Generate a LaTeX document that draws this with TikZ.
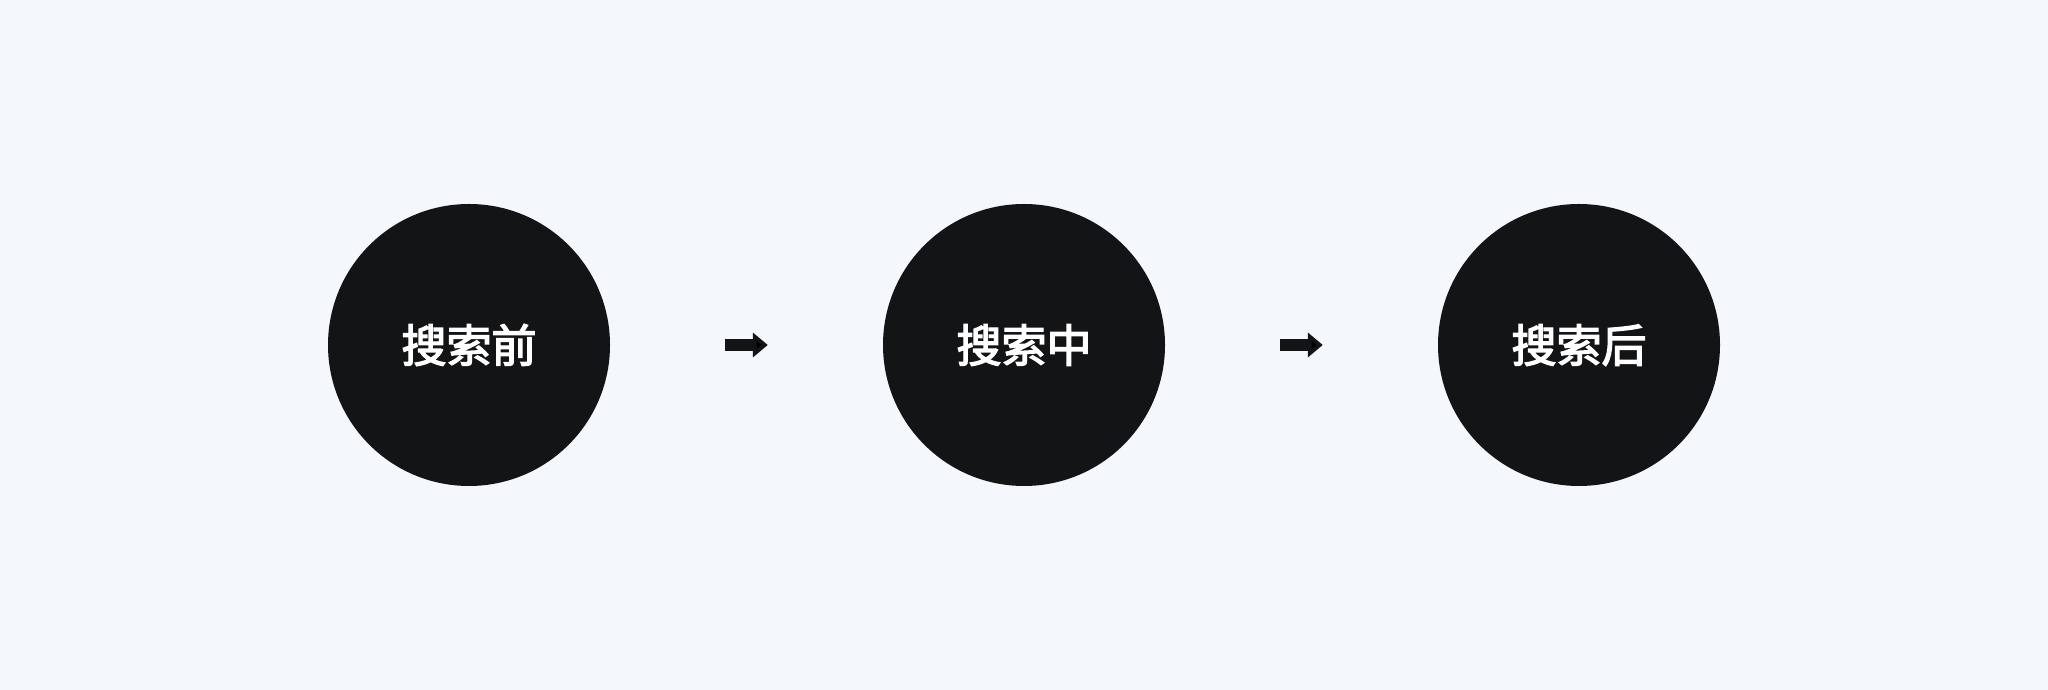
\documentclass[tikz,border=0pt]{standalone}
\usepackage{fontspec}
\newfontfamily\cjk{Noto Sans CJK SC}[FakeBold=3]
\usepackage{tikz}
\usetikzlibrary{arrows.meta,positioning}

\definecolor{bgpale}{HTML}{F4F7FC}
\definecolor{inkdark}{HTML}{131416}

\begin{document}
\begin{tikzpicture}[x=1pt,y=1pt,node distance=555pt,on grid,
		stage/.style={circle,fill=inkdark,minimum size=282pt,inner sep=0pt,text=white,font=\cjk\fontsize{45}{45}\selectfont},
		flow/.style={line width=12pt,draw=inkdark,-{Triangle[length=15pt,width=24pt]},shorten <=115pt,shorten >=115pt}]
	\fill[bgpale] (0,0) rectangle (2048,690);
	\useasboundingbox (0,0) rectangle (2048,690);
	\node[stage] (s_0) at (469,345) {搜索前};
	\node[stage] (s_1) [right=of s_0] {搜索中};
	\node[stage] (s_2) [right=of s_1] {搜索后};
	\path[flow]
	(s_0) edge (s_1)
	(s_1) edge (s_2)
	;
\end{tikzpicture}
\end{document}
